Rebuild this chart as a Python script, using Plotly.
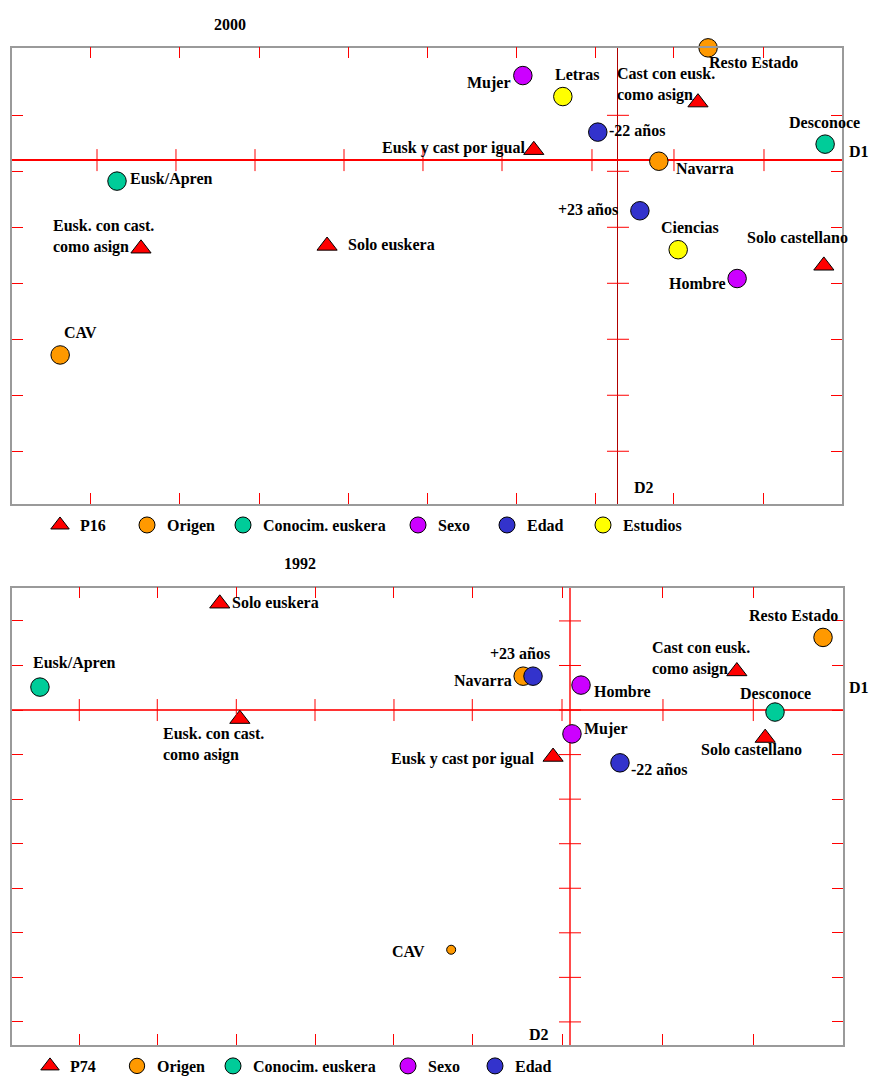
import plotly.graph_objects as go

FONT = "Liberation Serif"
W, H = 871, 1083

# ---------------- data: 2000 (P16) ----------------
P16_LABELS = ["Cast con eusk.<br>como asign", "Eusk y cast por igual", "Solo castellano",
              "Eusk. con cast.<br>como asign", "Solo euskera"]
P16_D1 = [0.190, -0.200, 0.489, -1.133, -0.691]
P16_D2 = [0.206, 0.036, -0.377, -0.316, -0.306]

ORIGEN_2000_LABELS = ["Resto Estado", "Navarra", "CAV"]
ORIGEN_2000_D1 = [0.214, 0.097, -1.325]
ORIGEN_2000_D2 = [0.401, -0.004, -0.696]

CONOC_2000_LABELS = ["Desconoce", "Eusk/Apren"]
CONOC_2000_D1 = [0.492, -1.190]
CONOC_2000_D2 = [0.057, -0.075]

SEXO_2000_LABELS = ["Mujer", "Hombre"]
SEXO_2000_D1 = [-0.226, 0.283]
SEXO_2000_D2 = [0.302, -0.423]

EDAD_2000_LABELS = ["-22 años", "+23 años"]
EDAD_2000_D1 = [-0.048, 0.052]
EDAD_2000_D2 = [0.100, -0.181]

ESTUD_2000_LABELS = ["Letras", "Ciencias"]
ESTUD_2000_D1 = [-0.131, 0.143]
ESTUD_2000_D2 = [0.227, -0.320]

# axis ticks 2000
X_TICKS_2000 = [-1.2525, -1.0404, -0.8527, -0.6390, -0.4513, -0.2399, -0.0523, 0.1330, 0.3468]
D1_TICKS_2000 = [-1.2375, -1.0499, -0.8622, -0.6508, -0.4632, -0.2755, -0.0618, 0.1330, 0.3468]
Y_TICKS_2000 = [0.16, -0.04, -0.24, -0.44, -0.64, -0.84, -1.04]
X_RANGE_2000 = [-1.4394, 0.5321]
Y_RANGE_2000 = [-1.2291, 0.4014]

# ---------------- data: 1992 (P74) ----------------
P74_LABELS = ["Solo euskera", "Cast con eusk.<br>como asign", "Eusk. con cast.<br>como asign",
              "Solo castellano", "Eusk y cast por igual"]
P74_D1 = [-0.890, 0.424, -0.839, 0.496, -0.043]
P74_D2 = [0.478, 0.174, -0.040, -0.125, -0.210]

ORIGEN_1992_LABELS = ["Resto Estado", "Navarra", "CAV"]
ORIGEN_1992_D1 = [0.643, -0.119, -0.302]
ORIGEN_1992_D2 = [0.326, 0.152, -1.076]

CONOC_1992_LABELS = ["Eusk/Apren", "Desconoce"]
CONOC_1992_D1 = [-1.347, 0.521]
CONOC_1992_D2 = [0.103, -0.009]

SEXO_1992_LABELS = ["Hombre", "Mujer"]
SEXO_1992_D1 = [0.028, 0.005]
SEXO_1992_D2 = [0.112, -0.107]

EDAD_1992_LABELS = ["+23 años", "-22 años"]
EDAD_1992_D1 = [-0.094, 0.127]
EDAD_1992_D2 = [0.152, -0.237]

X_TICKS_1992 = [-1.2470, -1.0488, -0.8480, -0.6480, -0.4473, -0.2483, -0.0203, 0.2363, 0.4658]
Y_TICKS_1992 = [0.4, 0.2, 0.0, -0.2, -0.4, -0.6, -0.8, -1.0, -1.2, -1.4]
X_RANGE_1992 = [-1.4180, 0.6925]
Y_RANGE_1992 = [-1.5022, 0.5491]

# ---------------- styles ----------------
GROUP_STYLE = {
    "P16": ("triangle-up", "#FF0000"),
    "P74": ("triangle-up", "#FF0000"),
    "Origen": ("circle", "#FF9900"),
    "Conocim. euskera": ("circle", "#00CC99"),
    "Sexo": ("circle", "#CC00FF"),
    "Edad": ("circle", "#3333CC"),
    "Estudios": ("circle", "#FFFF00"),
}
BASE_SIZE = {"triangle-up": 17.5, "circle": 18.5}
SIZE_OVERRIDE = {("1992", "CAV"): 9}

# label placement: (xanchor, xshift px, yshift px)
LABEL_PLACE = {
    "2000": {
        "Cast con eusk.<br>como asign": ("left", -81, 18),
        "Eusk y cast por igual": ("right", -9, 2),
        "Solo castellano": ("center", -26, 28),
        "Eusk. con cast.<br>como asign": ("left", -88, 12),
        "Solo euskera": ("left", 21, 1),
        "Resto Estado": ("left", 1, -15),
        "Navarra": ("left", 17, -7),
        "CAV": ("center", 20, 22),
        "Desconoce": ("center", -1, 22),
        "Eusk/Apren": ("left", 13, 2),
        "Mujer": ("right", -12, -7),
        "Hombre": ("right", -11, -5),
        "-22 años": ("left", 11, 2),
        "+23 años": ("right", -22, 1),
        "Letras": ("center", 14, 22),
        "Ciencias": ("center", 12, 22),
    },
    "1992": {
        "Solo euskera": ("left", 12, 1),
        "Cast con eusk.<br>como asign": ("left", -85, 13),
        "Eusk. con cast.<br>como asign": ("left", -77, -26),
        "Solo castellano": ("center", -14, -12),
        "Eusk y cast por igual": ("right", -19, -2),
        "Resto Estado": ("center", -30, 22),
        "Navarra": ("right", -11, -4),
        "CAV": ("right", -26, -2),
        "Eusk/Apren": ("left", -7, 24),
        "Desconoce": ("center", 0, 19),
        "Hombre": ("left", 13, -6),
        "Mujer": ("left", 12, 5),
        "+23 años": ("center", -13, 23),
        "-22 años": ("left", 11, -7),
    },
}

LABEL_FONT = dict(family=FONT, size=16, color="black", weight="bold")


def px_x(v):
    return v / W


def px_y(v):
    return 1 - v / H


PANELS = [
    dict(name="2000", xa="x", ya="y",
         xdom=[px_x(12), px_x(842)], ydom=[px_y(507), px_y(48)],
         xrange=X_RANGE_2000, yrange=Y_RANGE_2000,
         xticks=X_TICKS_2000, d1ticks=D1_TICKS_2000, yticks=Y_TICKS_2000,
         d1color="#FF0000", d1width=1.5, d2color="#B00000", d2width=1,
         legx=[60, 147, 243, 418, 507, 603], legy=528,
         title_xy=(230, 25), d1_shift=(7, 9), d2_pos=("left", 14, 17),
         groups=[
             ("P16", P16_LABELS, P16_D1, P16_D2),
             ("Origen", ORIGEN_2000_LABELS, ORIGEN_2000_D1, ORIGEN_2000_D2),
             ("Conocim. euskera", CONOC_2000_LABELS, CONOC_2000_D1, CONOC_2000_D2),
             ("Sexo", SEXO_2000_LABELS, SEXO_2000_D1, SEXO_2000_D2),
             ("Edad", EDAD_2000_LABELS, EDAD_2000_D1, EDAD_2000_D2),
             ("Estudios", ESTUD_2000_LABELS, ESTUD_2000_D1, ESTUD_2000_D2),
         ]),
    dict(name="1992", xa="x2", ya="y2",
         xdom=[px_x(12), px_x(842.5)], ydom=[px_y(1050.5), px_y(591)],
         xrange=X_RANGE_1992, yrange=Y_RANGE_1992,
         xticks=X_TICKS_1992, d1ticks=X_TICKS_1992, yticks=Y_TICKS_1992,
         d1color="rgba(255,0,0,0.8)", d1width=1.8, d2color="rgba(255,0,0,0.7)", d2width=2,
         legx=[50, 137, 233, 408, 495], legy=1072,
         title_xy=(300, 567), d1_shift=(6, 23), d2_pos=("right", -19, 10),
         groups=[
             ("P74", P74_LABELS, P74_D1, P74_D2),
             ("Origen", ORIGEN_1992_LABELS, ORIGEN_1992_D1, ORIGEN_1992_D2),
             ("Conocim. euskera", CONOC_1992_LABELS, CONOC_1992_D1, CONOC_1992_D2),
             ("Sexo", SEXO_1992_LABELS, SEXO_1992_D1, SEXO_1992_D2),
             ("Edad", EDAD_1992_LABELS, EDAD_1992_D1, EDAD_1992_D2),
         ]),
]

fig = go.Figure()
annotations = []
shapes = []
layout = {}
legend_n = 0

for i, p in enumerate(PANELS):
    sfx = "" if i == 0 else str(i + 1)
    xa_key, ya_key = "xaxis" + sfx, "yaxis" + sfx
    common = dict(showgrid=False, showticklabels=False, showline=True, linecolor="#9a9a9a",
                  linewidth=1.5, mirror="ticks", ticks="inside", ticklen=11, tickcolor="#FF0000",
                  tickwidth=1, tickmode="array", zeroline=True, fixedrange=True)
    layout[xa_key] = dict(common, domain=p["xdom"], range=p["xrange"], tickvals=p["xticks"],
                          anchor=p["ya"], zerolinecolor=p["d2color"], zerolinewidth=p["d2width"])
    layout[ya_key] = dict(common, domain=p["ydom"], range=p["yrange"], tickvals=p["yticks"],
                          anchor=p["xa"], zerolinecolor=p["d1color"], zerolinewidth=p["d1width"])

    # crossing ticks on the D1 and D2 axes
    for t in p["d1ticks"]:
        shapes.append(dict(type="line", xref=p["xa"], yref=p["ya"], x0=t, x1=t,
                           ysizemode="pixel", yanchor=0, y0=-11, y1=11,
                           line=dict(color="#FF0000", width=1)))
    for t in p["yticks"]:
        shapes.append(dict(type="line", xref=p["xa"], yref=p["ya"], y0=t, y1=t,
                           xsizemode="pixel", xanchor=0, x0=-11, x1=11,
                           line=dict(color="#FF0000", width=1)))

    for gi, (gname, labels, d1, d2) in enumerate(p["groups"]):
        legend_n += 1
        lname = "legend" if legend_n == 1 else "legend%d" % legend_n
        sym, col = GROUP_STYLE[gname]
        sizes = [SIZE_OVERRIDE.get((p["name"], lab), BASE_SIZE[sym]) for lab in labels]
        fig.add_trace(go.Scatter(
            x=d1, y=d2, mode="markers", name=gname, xaxis=p["xa"], yaxis=p["ya"],
            legend=lname, cliponaxis=False, hoverinfo="skip",
            marker=dict(symbol=sym, color=col, size=sizes, opacity=1, sizemode="diameter",
                        line=dict(color="black", width=1)),
        ))
        layout[lname] = dict(x=px_x(p["legx"][gi] - 20), y=px_y(p["legy"]),
                             xanchor="left", yanchor="middle", orientation="h",
                             bgcolor="rgba(0,0,0,0)", borderwidth=0, itemsizing="trace",
                             font=dict(family=FONT, size=16, color="black", weight="bold"))
        for lab, x, y in zip(labels, d1, d2):
            xanc, dx, dy = LABEL_PLACE[p["name"]][lab]
            annotations.append(dict(x=x, y=y, xref=p["xa"], yref=p["ya"], text=lab,
                                    showarrow=False, xanchor=xanc, yanchor="middle",
                                    xshift=dx, yshift=dy, align="left", font=LABEL_FONT,
                                    borderpad=0, borderwidth=0))

    # panel title
    annotations.append(dict(x=px_x(p["title_xy"][0]), y=px_y(p["title_xy"][1]), xref="paper",
                            yref="paper", text=p["name"], showarrow=False, xanchor="center",
                            yanchor="middle", font=LABEL_FONT))
    # D1 / D2 axis names
    annotations.append(dict(x=1, y=0, xref=p["xa"] + " domain", yref=p["ya"], text="D1",
                            showarrow=False, xanchor="left", yanchor="middle",
                            xshift=p["d1_shift"][0], yshift=p["d1_shift"][1], font=LABEL_FONT,
                            borderpad=0, borderwidth=0))
    annotations.append(dict(x=0, y=0, xref=p["xa"], yref=p["ya"] + " domain", text="D2",
                            showarrow=False, xanchor=p["d2_pos"][0], yanchor="middle",
                            xshift=p["d2_pos"][1], yshift=p["d2_pos"][2], font=LABEL_FONT))

fig.update_layout(
    width=W, height=H, margin=dict(l=0, r=0, t=0, b=0),
    paper_bgcolor="white", plot_bgcolor="white",
    annotations=annotations, shapes=shapes, showlegend=True,
    font=dict(family=FONT, size=16, color="black"),
    **layout,
)

# remove the page's default body margin so the figure fills the window exactly
POST = "document.body.style.margin='0';document.documentElement.style.overflow='hidden';"
fig.write_html("out.html", post_script=POST, config={"displayModeBar": False})
